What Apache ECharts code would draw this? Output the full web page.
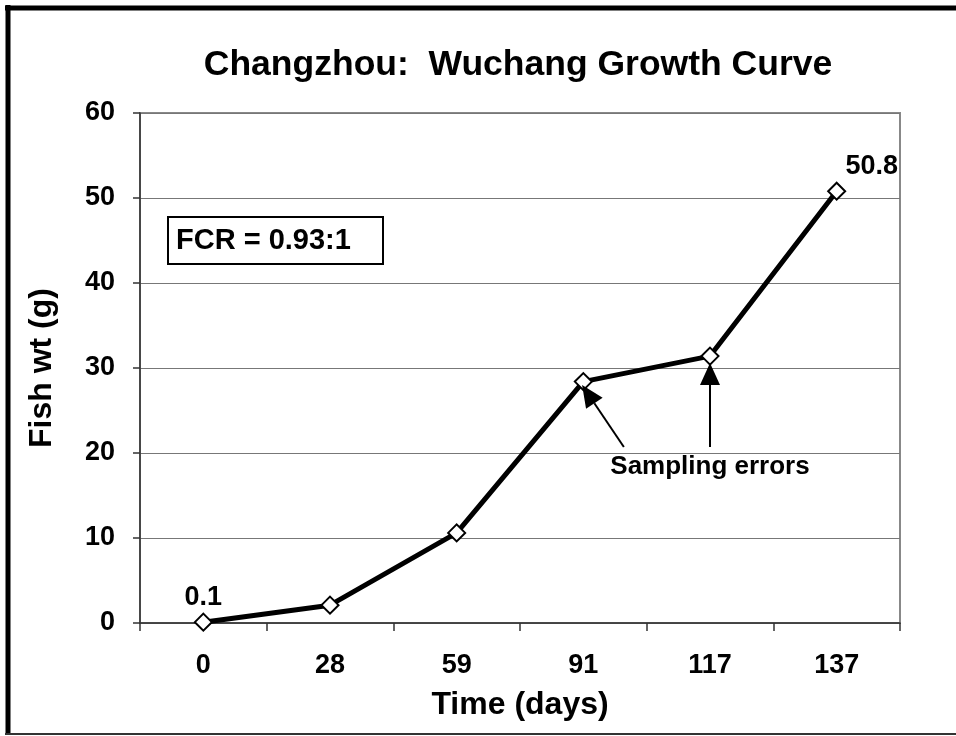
<!DOCTYPE html>
<html>
<head>
<meta charset="utf-8">
<script src="https://cdn.jsdelivr.net/npm/echarts@6/dist/echarts.min.js"></script>
<style>
html,body{margin:0;padding:0;background:#fff;}
#chart{width:956px;height:736px;}
</style>
</head>
<body>
<div id="chart"></div>
<script>
// ---- data ----
const categories = ['0', '28', '59', '91', '117', '137'];
const fishWt = [0.1, 2.1, 10.6, 28.4, 31.4, 50.8];
const labeledIdx = [0, 5];
const yTicks = [0, 10, 20, 30, 40, 50, 60];
const titleText = 'Changzhou:  Wuchang Growth Curve';
const fcrText = 'FCR = 0.93:1';
const noteText = 'Sampling errors';
// arrow annotations in data space: [categoryIndex (may be fractional), value]
const arrows = [
  { from: [3.32, 20.7], to: [2.99, 28.0] },
  { from: [4.0, 20.7], to: [4.0, 30.6] }
];
const notePos = [4.0, 18.4];

const SANS = "'Liberation Sans', Arial, sans-serif";

const chart = echarts.init(document.getElementById('chart'), null, { renderer: 'canvas' });

const seriesData = fishWt.map((v, i) => {
  const item = { value: v };
  if (labeledIdx.indexOf(i) >= 0) {
    item.label = {
      show: true,
      position: 'top',
      distance: 2,
      offset: i === fishWt.length - 1 ? [35, 0] : [0, 0],
      formatter: String(v),
      fontFamily: SANS,
      fontWeight: 'bold',
      fontSize: 27,
      color: '#000'
    };
  }
  return item;
});

const option = {
  backgroundColor: '#ffffff',
  animation: false,
  title: {
    text: titleText,
    left: 513,
    top: 42,
    textAlign: 'center',
    textStyle: { fontFamily: SANS, fontWeight: 'bold', fontSize: 35.5, color: '#000' }
  },
  grid: {
    left: 140, right: 56, top: 113, bottom: 113,
    show: true, borderColor: '#888', borderWidth: 2, backgroundColor: 'transparent'
  },
  xAxis: {
    type: 'category',
    data: categories,
    boundaryGap: true,
    name: 'Time (days)',
    nameLocation: 'middle',
    nameGap: 66,
    nameTextStyle: { fontFamily: SANS, fontWeight: 'bold', fontSize: 32, color: '#000' },
    axisLine: { show: true, lineStyle: { color: '#333', width: 1.5 } },
    axisTick: { show: true, inside: false, length: 8, alignWithLabel: false, lineStyle: { color: '#333', width: 1.5 } },
    axisLabel: { margin: 29, fontFamily: SANS, fontWeight: 'bold', fontSize: 27, color: '#000' },
    splitLine: { show: false }
  },
  yAxis: {
    type: 'value',
    min: yTicks[0],
    max: yTicks[yTicks.length - 1],
    interval: yTicks[1] - yTicks[0],
    name: 'Fish wt (g)',
    nameLocation: 'middle',
    nameGap: 82,
    nameTextStyle: { fontFamily: SANS, fontWeight: 'bold', fontSize: 32, color: '#000' },
    axisLine: { show: true, lineStyle: { color: '#333', width: 1.5 } },
    axisTick: { show: true, inside: false, length: 7, lineStyle: { color: '#333', width: 1.5 } },
    axisLabel: { margin: 25, fontFamily: SANS, fontWeight: 'bold', fontSize: 27, color: '#000' },
    splitLine: { show: true, lineStyle: { color: '#777', width: 1.2 } }
  },
  series: [{
    type: 'line',
    data: seriesData,
    symbol: 'diamond',
    symbolSize: 17,
    showAllSymbol: true,
    lineStyle: { color: '#000', width: 5 },
    itemStyle: { color: '#fff', borderColor: '#000', borderWidth: 2 },
    z: 5
  }]
};
chart.setOption(option);

// ---- annotations (positions via the chart's own scales) ----
function px(p) {
  const i0 = Math.floor(p[0]), i1 = Math.ceil(p[0]);
  const a = chart.convertToPixel({ gridIndex: 0 }, [i0, p[1]]);
  if (i0 === i1) return a;
  const b = chart.convertToPixel({ gridIndex: 0 }, [i1, p[1]]);
  const t = p[0] - i0;
  return [a[0] + (b[0] - a[0]) * t, a[1]];
}
const graphics = [];
arrows.forEach(a => {
  const f = px(a.from), t = px(a.to);
  const dx = t[0] - f[0], dy = t[1] - f[1];
  const len = Math.sqrt(dx * dx + dy * dy);
  const ux = dx / len, uy = dy / len;
  const headL = 22, headW = 10;
  const bx = t[0] - ux * headL, by = t[1] - uy * headL;
  graphics.push({
    type: 'line', z: 10,
    shape: { x1: f[0], y1: f[1], x2: bx, y2: by },
    style: { stroke: '#000', lineWidth: 2 }
  });
  graphics.push({
    type: 'polygon', z: 10,
    shape: { points: [[t[0], t[1]], [bx - uy * headW, by + ux * headW], [bx + uy * headW, by - ux * headW]] },
    style: { fill: '#000' }
  });
});
const np = px(notePos);
graphics.push({
  type: 'text', z: 10, x: np[0], y: np[1],
  style: { text: noteText, fontFamily: SANS, fontWeight: 'bold', fontSize: 26, fill: '#000', align: 'center', verticalAlign: 'middle' }
});
// FCR box
graphics.push({
  type: 'rect', z: 10,
  shape: { x: 168, y: 217, width: 215, height: 47 },
  style: { fill: '#fff', stroke: '#000', lineWidth: 2 }
});
graphics.push({
  type: 'text', z: 11, x: 176, y: 241,
  style: { text: fcrText, fontFamily: SANS, fontWeight: 'bold', fontSize: 29, fill: '#000', align: 'left', verticalAlign: 'middle' }
});
// outer frame
graphics.push({ type: 'line', z: 20, shape: { x1: 8, y1: 5, x2: 8, y2: 735 }, style: { stroke: '#000', lineWidth: 5 } });
graphics.push({ type: 'line', z: 20, shape: { x1: 5, y1: 8, x2: 956, y2: 8 }, style: { stroke: '#000', lineWidth: 5 } });
graphics.push({ type: 'line', z: 20, shape: { x1: 5, y1: 734, x2: 956, y2: 734 }, style: { stroke: '#333', lineWidth: 2 } });

chart.setOption({ graphic: graphics });
</script>
</body>
</html>
